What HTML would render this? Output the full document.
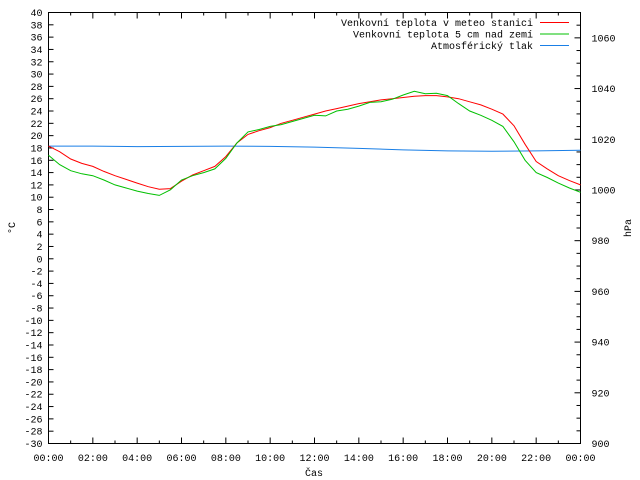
<!DOCTYPE html>
<html><head><meta charset="utf-8"><style>
html,body{margin:0;padding:0;background:#fff}
svg{display:block}
text{font-family:"Liberation Mono",monospace;font-size:10px;fill:#000}
</style></head><body>
<svg id="c" width="640" height="480"></svg>
<script>
const hours = [0,0.5,1,1.5,2,2.5,3,3.5,4,4.5,5,5.5,6,6.5,7,7.5,8,8.5,9,9.5,10,10.5,11,11.5,12,12.5,13,13.5,14,14.5,15,15.5,16,16.5,17,17.5,18,18.5,19,19.5,20,20.5,21,21.5,22,22.5,23,23.5,24];
const tempStation = [18.3,17.4,16.2,15.5,15,14.2,13.5,12.9,12.3,11.7,11.3,11.4,12.6,13.6,14.3,15,16.6,18.8,20.2,20.8,21.3,22,22.5,23,23.5,24,24.4,24.8,25.2,25.5,25.8,26,26.2,26.4,26.5,26.5,26.3,26,25.5,25,24.3,23.5,21.6,18.6,15.8,14.6,13.5,12.7,12];
const tempGround = [16.8,15.3,14.3,13.8,13.5,12.8,12,11.5,11,10.6,10.3,11.2,12.8,13.5,14,14.6,16.3,18.8,20.6,21,21.5,21.8,22.3,22.8,23.3,23.2,24,24.3,24.8,25.4,25.5,25.9,26.6,27.2,26.8,26.9,26.5,25.2,24,23.3,22.5,21.5,19,16,14,13.2,12.3,11.5,10.8];
const pressHours = [0,2,4,6,8,10,12,14,16,18,20,22,24];
const pressure = [1017.3,1017.3,1017.1,1017.2,1017.3,1017.2,1016.9,1016.4,1015.8,1015.4,1015.3,1015.4,1015.7];
const yTicks = [];for(let v=-30;v<=40;v+=2)yTicks.push(v);
const y2Ticks = [900,920,940,960,980,1000,1020,1040,1060];
const xLabels = ["00:00","02:00","04:00","06:00","08:00","10:00","12:00","14:00","16:00","18:00","20:00","22:00","00:00"];

const L=48.5,R=580.5,T=12.5,B=443.5;
const xs=h=>L+(R-L)*h/24;
const ys=v=>B-(B-T)*(v+30)/70;
const ys2=p=>B-(B-T)*(p-900)/170;
const svg=document.getElementById('c');const NS='http://www.w3.org/2000/svg';
function mk(t,a,p){const e=document.createElementNS(NS,t);for(const k in a)e.setAttribute(k,a[k]);(p||svg).appendChild(e);return e;}
const frame=mk('rect',{x:L,y:T,width:R-L,height:B-T,fill:'none',stroke:'#000'});


yTicks.forEach(v=>{const y=ys(v);
 mk('line',{x1:L,x2:L+5,y1:y,y2:y,stroke:'#000'});
 const t=mk('text',{x:L-6,y:y+3.5,'text-anchor':'end'});t.textContent=v;
 
 });
for(let p=900;p<=1070;p+=5){const y=ys2(p);mk('line',{x1:R-(p%20==0?6:4),x2:R,y1:y,y2:y,stroke:'#000'});}
y2Ticks.forEach(p=>{const t=mk('text',{x:R+11,y:ys2(p)+3.5});t.textContent=p;
 
 });
for(let h=0;h<=24;h++){const x=xs(h),len=h%2==0?6:3;
 mk('line',{x1:x,x2:x,y1:B,y2:B-len,stroke:'#000'});mk('line',{x1:x,x2:x,y1:T,y2:T+len,stroke:'#000'});}
xLabels.forEach((s,i)=>{const t=mk('text',{x:xs(i*2),y:461,'text-anchor':'middle'});t.textContent=s;
 
 });
function line(hs,vs,f,c,name){const d=hs.map((h,i)=>(i?'L':'M')+xs(h).toFixed(1)+','+f(vs[i]).toFixed(1)).join('');
 const p=mk('path',{d:d,fill:'none',stroke:c,'stroke-width':1});
 
 }
line(pressHours,pressure,ys2,'#1a7fe6','series-pressure');
line(hours,tempStation,ys,'#ff0000','series-temp-station');
line(hours,tempGround,ys,'#00c000','series-temp-ground');
const leg=[["Venkovní teplota v meteo stanici",'#ff0000'],["Venkovní teplota 5 cm nad zemí",'#00c000'],["Atmosférický tlak",'#1a7fe6']];
leg.forEach((l,i)=>{const y=22.5+i*11.5;
 const t=mk('text',{x:533,y:y+3.5,'text-anchor':'end'});t.textContent=l[0];
 
 
 mk('line',{x1:540,x2:569,y1:y,y2:y,stroke:l[1]});});
const a=mk('text',{x:0,y:0,transform:'translate(15,228) rotate(-90)','text-anchor':'middle'});a.textContent='°C';


const b=mk('text',{x:0,y:0,transform:'translate(631,228) rotate(-90)','text-anchor':'middle'});b.textContent='hPa';


const c=mk('text',{x:314,y:476,'text-anchor':'middle'});c.textContent='Čas';


</script></body></html>
